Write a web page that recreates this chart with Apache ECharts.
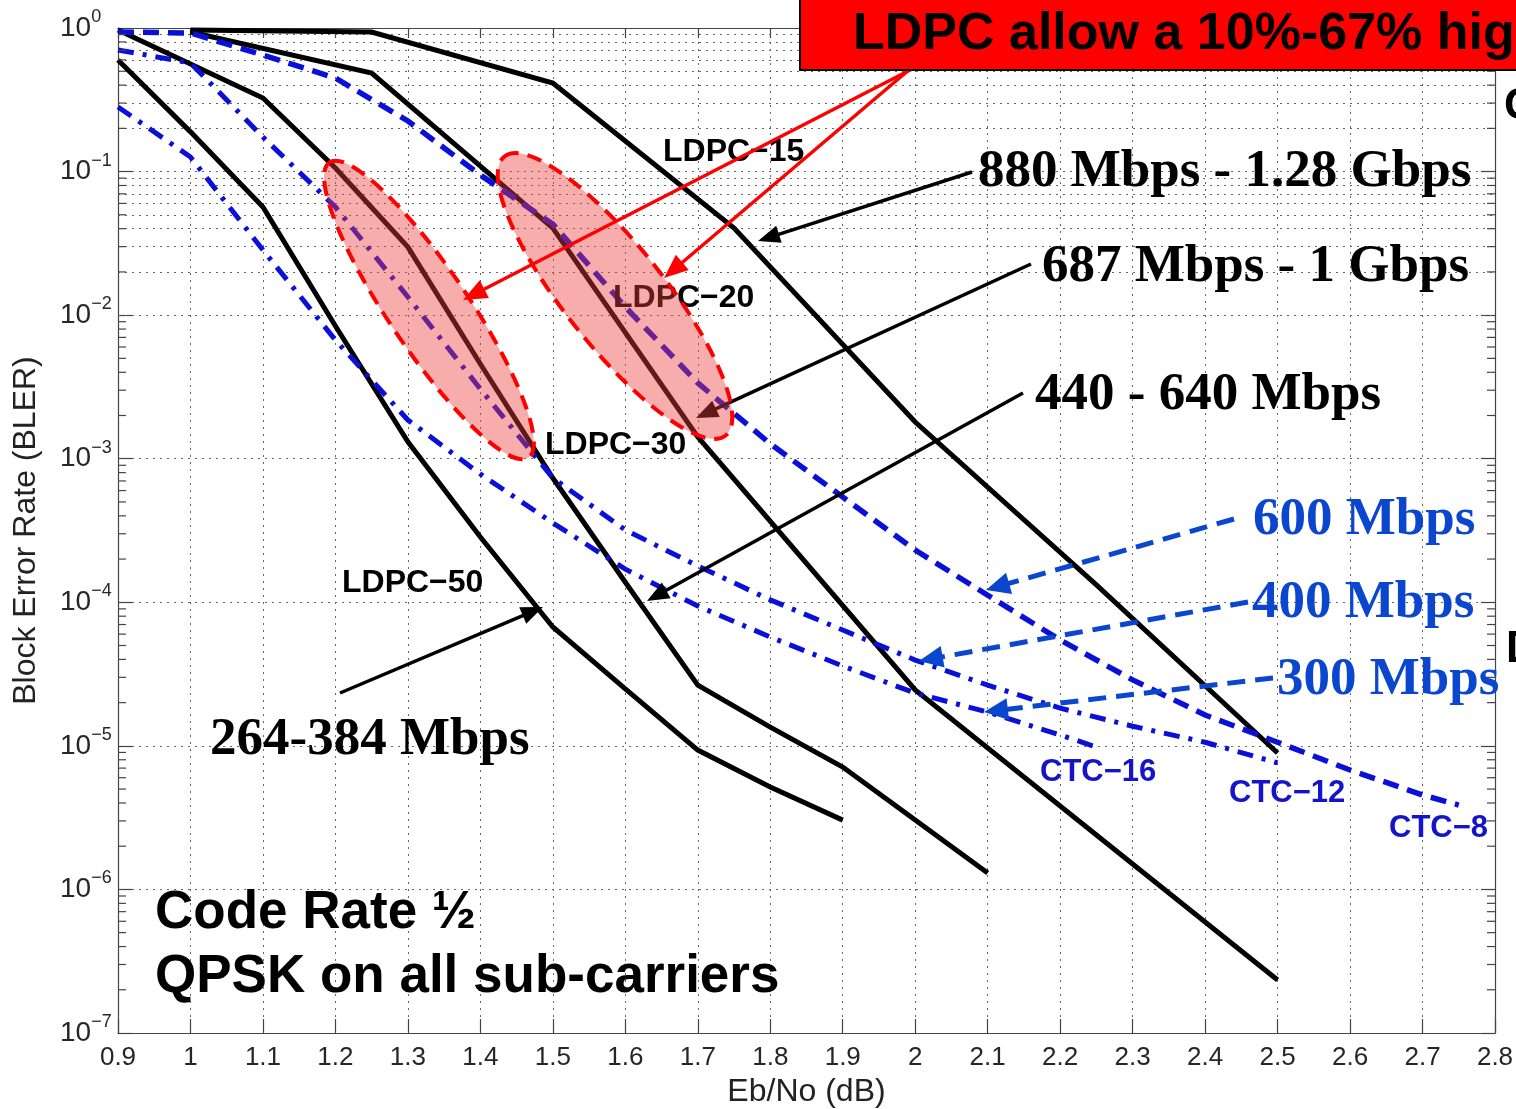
<!DOCTYPE html>
<html><head><meta charset="utf-8">
<script src="https://cdn.jsdelivr.net/npm/echarts@6.0.0/dist/echarts.min.js"></script>
<style>html,body{margin:0;padding:0;background:#fff}#c{width:1516px;height:1109px}</style>
</head><body><div id="c"></div>
<script>
// ---------- data (Eb/No in dB, BLER) ----------
const ldpc50_x = [0.9, 1.0, 1.1, 1.2, 1.3, 1.4, 1.5, 1.6, 1.7, 1.8, 1.9];
const ldpc50_y = [0.599, 0.189, 0.0566, 8.4e-3, 1.31e-3, 2.85e-4, 6.73e-5, 2.49e-5, 9.35e-6, 5.17e-6, 3.04e-6];

const ldpc30_x = [0.9, 1.0, 1.1, 1.2, 1.3, 1.4, 1.5, 1.6, 1.7, 1.8, 1.9, 2.0, 2.1];
const ldpc30_y = [0.968, 0.561, 0.3255, 0.1059, 0.0298, 4.57e-3, 7.34e-4, 1.38e-4, 2.65e-5, 1.35e-5, 7.12e-6, 3.04e-6, 1.30e-6];

const ldpc20_x = [1.0, 1.25, 1.5, 1.7, 2.0, 2.5];
const ldpc20_y = [0.938, 0.486, 0.0404, 1.42e-3, 2.45e-5, 2.34e-7];

const ldpc15_x = [1.0, 1.25, 1.5, 1.75, 2.0, 2.25, 2.5];
const ldpc15_y = [0.968, 0.938, 0.414, 0.0404, 1.80e-3, 1.32e-4, 8.92e-6];

const ctc8_x = [0.9, 1.0, 1.1, 1.2, 1.3, 1.4, 1.5, 1.6, 1.7, 1.8, 1.9, 2.0, 2.1, 2.2, 2.3, 2.4, 2.5, 2.6, 2.7, 2.75];
const ctc8_y = [0.938, 0.923, 0.648, 0.448, 0.225, 0.0946, 0.0431, 0.0114, 3.37e-3, 1.27e-3, 5.41e-4, 2.31e-4, 1.12e-4, 5.46e-5, 2.88e-5, 1.64e-5, 1.06e-5, 6.79e-6, 4.55e-6, 3.87e-6];

const ctc12_x = [0.9, 1.0, 1.1, 1.2, 1.3, 1.4, 1.5, 1.6, 1.7, 1.8, 1.9, 2.0, 2.1, 2.2, 2.3, 2.4, 2.5];
const ctc12_y = [0.703, 0.571, 0.174, 0.0566, 0.01338, 3.06e-3, 7.34e-4, 3.19e-4, 1.79e-4, 1.04e-4, 6.41e-5, 3.96e-5, 2.65e-5, 1.83e-5, 1.37e-5, 1.06e-5, 7.6e-6];

const ctc16_x = [0.9, 1.0, 1.1, 1.2, 1.3, 1.4, 1.5, 1.6, 1.7, 1.8, 1.9, 2.0, 2.1, 2.2, 2.25];
const ctc16_y = [0.2818, 0.1263, 0.0284, 6.71e-3, 1.86e-3, 7.82e-4, 3.57e-4, 1.70e-4, 9.42e-5, 5.73e-5, 3.60e-5, 2.33e-5, 1.72e-5, 1.19e-5, 9.82e-6];

const xMin = 0.9, xMax = 2.8, xStep = 0.1;
const yMin = 1e-7, yMax = 1;
const xAxisName = 'Eb/No (dB)';
const yAxisName = 'Block Error Rate (BLER)';

// ---------- chart ----------
const SANS = '"Liberation Sans", Arial, Helvetica, sans-serif';
const SERIF = '"Liberation Serif", "Times New Roman", serif';
const zip = (xs, ys) => xs.map((x, i) => [x, ys[i]]);

const minorVals = [];
for (let k = -7; k < 0; k++) for (let m = 2; m <= 9; m++) minorVals.push(m * Math.pow(10, k));

const gridDot = { type: [2, 5], color: '#666', width: 1 };
const BLUE = '#0a10d8';

function mkSeries(name, xs, ys, color, type, width) {
  return {
    name, type: 'line', data: zip(xs, ys), symbol: 'none', smooth: false,
    lineStyle: { color, width, type, cap: 'butt', join: 'miter' },
    z: 3, silent: true
  };
}

const series = [
  mkSeries('LDPC-50', ldpc50_x, ldpc50_y, '#000', 'solid', 5),
  mkSeries('LDPC-30', ldpc30_x, ldpc30_y, '#000', 'solid', 5),
  mkSeries('LDPC-20', ldpc20_x, ldpc20_y, '#000', 'solid', 5),
  mkSeries('LDPC-15', ldpc15_x, ldpc15_y, '#000', 'solid', 5),
  mkSeries('CTC-8', ctc8_x, ctc8_y, BLUE, [16, 9], 5.5),
  mkSeries('CTC-12', ctc12_x, ctc12_y, BLUE, [16, 9, 4, 9], 5),
  mkSeries('CTC-16', ctc16_x, ctc16_y, BLUE, [16, 9, 4, 9], 5)
];
series[0].markLine = {
  silent: true, animation: false, symbol: ['none', 'none'], z: 1,
  label: { show: false }, lineStyle: gridDot, emphasis: { disabled: true },
  data: minorVals.map(v => ({ yAxis: v }))
};

const axisLineStyle = { color: '#444', width: 1.2 };
const xFmt = v => String(Math.round(v * 10) / 10);
const yFmt = v => {
  const e = Math.round(Math.log10(v));
  return '{b|10}{s|' + (e === 0 ? '0' : '\u2212' + (-e)) + '}';
};

const option = {
  animation: false,
  backgroundColor: '#fff',
  grid: { left: 118, right: 21, top: 28, bottom: 76, outerBoundsMode: 'none', containLabel: false },
  xAxis: [{
    type: 'value', min: xMin, max: xMax, interval: xStep, position: 'bottom',
    name: xAxisName, nameLocation: 'middle', nameGap: 42,
    nameTextStyle: { fontFamily: SANS, fontSize: 32, color: '#222' },
    axisLine: { show: true, lineStyle: axisLineStyle },
    axisTick: { show: true, inside: true, length: 14, lineStyle: { color: '#444', width: 1.2 } },
    axisLabel: { formatter: xFmt, fontFamily: SANS, fontSize: 26, color: '#262626', margin: 12 },
    splitLine: { show: true, lineStyle: gridDot }
  }, {
    type: 'value', min: xMin, max: xMax, interval: xStep, position: 'top',
    axisLine: { show: true, lineStyle: axisLineStyle },
    axisTick: { show: true, inside: true, length: 10, lineStyle: { color: '#444', width: 1.2 } },
    axisLabel: { show: false }, splitLine: { show: false }
  }],
  yAxis: [{
    type: 'log', logBase: 10, min: yMin, max: yMax, position: 'left',
    name: yAxisName, nameLocation: 'middle', nameGap: 76, nameRotate: 90,
    nameTextStyle: { fontFamily: SANS, fontSize: 32, color: '#222' },
    axisLine: { show: true, lineStyle: axisLineStyle },
    axisTick: { show: true, inside: true, length: 14, lineStyle: { color: '#444', width: 1.2 } },
    axisLabel: {
      formatter: yFmt, align: 'left', margin: 58, color: '#262626',
      rich: {
        b: { fontFamily: SANS, fontSize: 28, color: '#262626', verticalAlign: 'middle' },
        s: { fontFamily: SANS, fontSize: 18, color: '#262626', verticalAlign: 'middle', padding: [0, 0, 22, 0] }
      }
    },
    splitLine: { show: true, lineStyle: gridDot }
  }, {
    type: 'log', logBase: 10, min: yMin, max: yMax, position: 'right',
    axisLine: { show: true, lineStyle: axisLineStyle },
    axisTick: { show: true, inside: true, length: 14, lineStyle: { color: '#444', width: 1.2 } },
    axisLabel: { show: false }, splitLine: { show: false }
  }],
  series
};

const chart = echarts.init(document.getElementById('c'), null, { renderer: 'canvas' });
chart.setOption(option);

// ---------- annotations ----------
function arrow(x1, y1, x2, y2, color, w, dash, hl, hw, z) {
  const dx = x2 - x1, dy = y2 - y1, L = Math.hypot(dx, dy), ux = dx / L, uy = dy / L;
  const bx = x2 - ux * hl, by = y2 - uy * hl, px = -uy, py = ux;
  return [
    { type: 'line', z, silent: true, shape: { x1, y1, x2: bx + ux * 2, y2: by + uy * 2 },
      style: { stroke: color, lineWidth: w, lineDash: dash || null } },
    { type: 'polygon', z, silent: true,
      shape: { points: [[x2, y2], [bx + px * hw, by + py * hw], [bx - px * hw, by - py * hw]] },
      style: { fill: color } }
  ];
}
function txt(x, y, text, font, fill, z) {
  return { type: 'text', x, y, z, silent: true,
    style: { text, font, fill, verticalAlign: 'middle', align: 'left' } };
}
function ellipse(cx, cy, rx, ry, deg) {
  return { type: 'ellipse', x: cx, y: cy, rotation: -deg * Math.PI / 180, z: 10, silent: true,
    shape: { cx: 0, cy: 0, rx, ry },
    style: { fill: 'rgba(238,60,60,0.42)', stroke: '#ff0000', lineWidth: 4, lineDash: [15, 9] } };
}

const g = [];
// minor ticks on left/right axes
const yAx = { yAxisIndex: 0 };
const xL = chart.convertToPixel({ xAxisIndex: 0 }, xMin);
const xR = chart.convertToPixel({ xAxisIndex: 0 }, xMax);
minorVals.forEach(v => {
  const py = chart.convertToPixel(yAx, v);
  g.push({ type: 'line', z: 4, silent: true, shape: { x1: xL, y1: py, x2: xL + 8, y2: py }, style: { stroke: '#444', lineWidth: 1.2 } });
  g.push({ type: 'line', z: 4, silent: true, shape: { x1: xR, y1: py, x2: xR - 8, y2: py }, style: { stroke: '#444', lineWidth: 1.2 } });
});

const B_SANS = 'bold 32px ' + SANS;
const CTC_FONT = 'bold 31px ' + SANS;
const CTC_COL = '#1414c8';
const BIG_SERIF = 'bold 53px ' + SERIF;
const BLUE2 = '#0b46cf';

// curve labels
g.push(txt(663, 152, 'LDPC\u221215', B_SANS, '#000', 5));
g.push(txt(613, 298, 'LDPC\u221220', B_SANS, '#000', 5));
g.push(txt(545, 445, 'LDPC\u221230', B_SANS, '#000', 5));
g.push(txt(342, 583, 'LDPC\u221250', B_SANS, '#000', 5));
g.push(txt(1040, 772, 'CTC\u221216', CTC_FONT, CTC_COL, 5));
g.push(txt(1229, 793, 'CTC\u221212', CTC_FONT, CTC_COL, 5));
g.push(txt(1389, 828, 'CTC\u22128', CTC_FONT, CTC_COL, 5));

// black arrows + throughput labels
g.push(...arrow(972, 172, 758, 241, '#000', 3.5, null, 22, 9, 6));
g.push(...arrow(1031, 264, 696, 418, '#000', 3.5, null, 22, 9, 6));
g.push(...arrow(1023, 393, 647, 601, '#000', 3.5, null, 22, 9, 6));
g.push(...arrow(340, 693, 543, 607, '#000', 3.5, null, 22, 9, 6));
g.push(txt(978, 172, '880 Mbps - 1.28 Gbps', BIG_SERIF, '#000', 6));
g.push(txt(1042, 267, '687 Mbps - 1 Gbps', BIG_SERIF, '#000', 6));
g.push(txt(1035, 395, '440 - 640 Mbps', BIG_SERIF, '#000', 6));
g.push(txt(210, 740, '264-384 Mbps', BIG_SERIF, '#000', 6));

// blue dashed arrows + labels
g.push(...arrow(1234, 519, 986, 590, BLUE2, 5, [18, 10], 24, 11, 6));
g.push(...arrow(1248, 602, 919, 661, BLUE2, 5, [18, 10], 24, 11, 6));
g.push(...arrow(1273, 678, 984, 712, BLUE2, 5, [18, 10], 24, 11, 6));
g.push(txt(1253, 520, '600 Mbps', BIG_SERIF, BLUE2, 6));
g.push(txt(1252, 603, '400 Mbps', BIG_SERIF, BLUE2, 6));
g.push(txt(1277, 680, '300 Mbps', BIG_SERIF, BLUE2, 6));

// highlight ellipses
g.push(ellipse(429, 310, 178, 40, 56));
g.push(ellipse(615, 296, 178, 50, 51.6));

// red callout
g.push(...arrow(912, 69, 463, 300, '#ff0000', 3.5, null, 24, 10, 15));
g.push(...arrow(910, 69, 664, 278, '#ff0000', 3.5, null, 24, 10, 15));
g.push({ type: 'rect', z: 20, silent: true, shape: { x: 800, y: -3, width: 740, height: 73 },
  style: { fill: '#ff0000', stroke: '#000', lineWidth: 2 } });
g.push(txt(853, 35, 'LDPC allow a 10%-67% higher', 'bold 52px ' + SANS, '#000', 21));

// bottom-left note
g.push(txt(155, 913, 'Code Rate \u00BD', 'bold 53px ' + SANS, '#000', 6));
g.push(txt(155, 977, 'QPSK on all sub-carriers', 'bold 53px ' + SANS, '#000', 6));

// clipped text at right edge
g.push(txt(1504, 107, 'C', 'bold 44px ' + SANS, '#000', 6));
g.push(txt(1506, 650, 'D', 'bold 44px ' + SANS, '#000', 6));

chart.setOption({ graphic: g });
</script>
</body></html>
